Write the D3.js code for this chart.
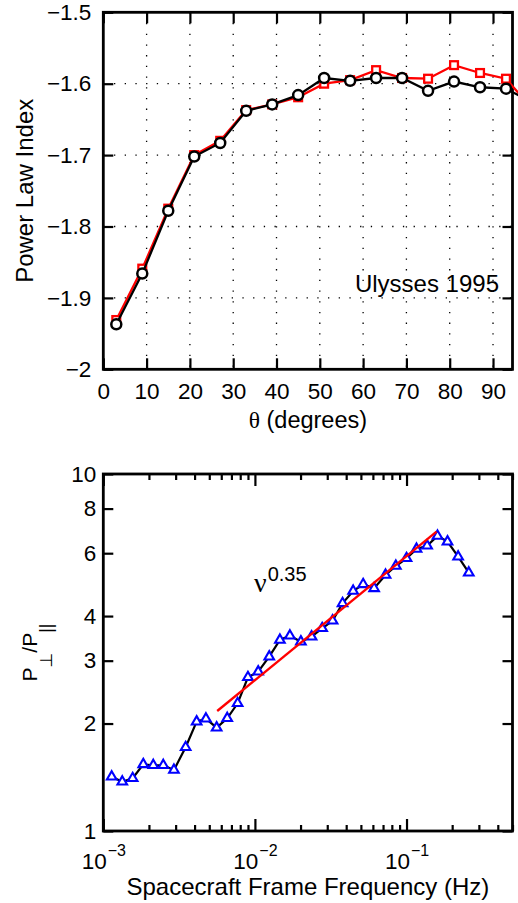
<!DOCTYPE html>
<html>
<head>
<meta charset="utf-8">
<script src="https://cdn.jsdelivr.net/npm/d3@7/dist/d3.min.js"></script>
<style>
  html, body { margin: 0; padding: 0; background: #fff; }
  svg { display: block; font-family: "Liberation Sans", Arial, Helvetica, sans-serif; }
</style>
</head>
<body>
<svg id="chart" width="518" height="903"></svg>
<script>
// ---------- Top panel data ----------
const thetaDeg = [3, 9, 15, 21, 27, 33, 39, 45, 51, 57, 63, 69, 75, 81, 87, 93, 99];
const indexBlack = [-1.937, -1.866, -1.778, -1.702, -1.683, -1.638, -1.629, -1.616, -1.592, -1.596, -1.592, -1.592, -1.610, -1.597, -1.605, -1.607, -1.626];
const indexRed   = [-1.931, -1.859, -1.775, -1.700, -1.680, -1.637, -1.629, -1.619, -1.600, -1.595, -1.581, -1.592, -1.593, -1.574, -1.585, -1.593, -1.635];
const thetaTicks = [0, 10, 20, 30, 40, 50, 60, 70, 80, 90];
const indexTicks = [-2, -1.9, -1.8, -1.7, -1.6, -1.5];
const indexTickLabels = ["\u22122", "\u22121.9", "\u22121.8", "\u22121.7", "\u22121.6", "\u22121.5"];

// ---------- Bottom panel data ----------
const freqHz = [0.001136, 0.001334, 0.001562, 0.001835, 0.002136, 0.002486, 0.002924, 0.003493, 0.004127, 0.004753,
                0.005591, 0.006568, 0.007691, 0.008994, 0.01051, 0.01243, 0.01462, 0.01701, 0.02010, 0.02364,
                0.02778, 0.03253, 0.03785, 0.04446, 0.05175, 0.06114, 0.07272, 0.08502, 0.1000, 0.1164,
                0.1367, 0.1601, 0.1863, 0.2190, 0.2574];
const powerRatio = [1.419, 1.374, 1.405, 1.537, 1.528, 1.528, 1.482, 1.716, 2.024, 2.063,
                    1.947, 2.069, 2.279, 2.695, 2.794, 3.078, 3.428, 3.524, 3.391, 3.502,
                    3.697, 3.882, 4.343, 4.702, 4.909, 4.784, 5.213, 5.525, 5.806, 6.164,
                    6.298, 6.705, 6.464, 5.866, 5.290];
const fitFreq = [0.00564, 0.1577];
const fitRatio = [2.168, 6.893];
const freqMajorTicks = [0.001, 0.01, 0.1];
const freqTickExp = ["\u22123", "\u22122", "\u22121"];
const ratioTicks = [1, 2, 3, 4, 6, 8, 10];
const ratioTickLabels = ["1", "2", "3", "4", "6", "8", "10"];

const svg = d3.select("#chart");
const L = 103.3, R = 512.5;
const TICK_FS = 22.5;

// ================= TOP PANEL =================
const T1 = 12.3, B1 = 369.3;
const x1 = d3.scaleLinear().domain([0, 94.5]).range([L, R]);
const y1 = d3.scaleLinear().domain([-2, -1.5]).range([B1, T1]);

const g1 = svg.append("g");

// dotted grid
g1.append("g").selectAll("line").data(thetaTicks.filter(d => d > 0)).join("line")
  .attr("x1", d => x1(d)).attr("x2", d => x1(d)).attr("y1", T1).attr("y2", B1)
  .attr("stroke", "#000").attr("stroke-width", 1.3).attr("stroke-dasharray", "1.3,9.4");
g1.append("g").selectAll("line").data(indexTicks.filter(d => d > -2 && d < -1.5)).join("line")
  .attr("y1", d => y1(d)).attr("y2", d => y1(d)).attr("x1", L).attr("x2", R)
  .attr("stroke", "#000").attr("stroke-width", 1.3).attr("stroke-dasharray", "1.3,9.4");

function styleAxis(sel, fs) {
  sel.select(".domain").remove();
  sel.selectAll(".tick line").attr("stroke", "#000").attr("stroke-width", 2.2);
  sel.selectAll(".tick text").attr("fill", "#000").attr("font-size", fs)
     .attr("font-family", '"Liberation Sans", Arial, sans-serif');
}

// axes with inward ticks
const ax1b = g1.append("g").attr("transform", `translate(0,${B1})`)
  .call(d3.axisBottom(x1).tickValues(thetaTicks).tickSizeInner(-11).tickSizeOuter(0).tickPadding(14).tickFormat(d3.format("d")));
styleAxis(ax1b, TICK_FS);
const ax1t = g1.append("g").attr("transform", `translate(0,${T1})`)
  .call(d3.axisTop(x1).tickValues(thetaTicks).tickSizeInner(-11).tickSizeOuter(0).tickFormat(""));
styleAxis(ax1t, TICK_FS);
const ax1l = g1.append("g").attr("transform", `translate(${L},0)`)
  .call(d3.axisLeft(y1).tickValues(indexTicks).tickSizeInner(-10).tickSizeOuter(0).tickPadding(12)
    .tickFormat((d, i) => indexTickLabels[i]));
styleAxis(ax1l, TICK_FS);
const ax1r = g1.append("g").attr("transform", `translate(${R},0)`)
  .call(d3.axisRight(y1).tickValues(indexTicks).tickSizeInner(-10).tickSizeOuter(0).tickFormat(""));
styleAxis(ax1r, TICK_FS);

// box
g1.append("rect").attr("x", L).attr("y", T1).attr("width", R - L).attr("height", B1 - T1)
  .attr("fill", "none").attr("stroke", "#000").attr("stroke-width", 2.8);

const line1 = d3.line().x((d, i) => x1(thetaDeg[i])).y(d => y1(d));
// red series
g1.append("path").datum(indexRed).attr("d", line1).attr("fill", "none")
  .attr("stroke", "#ff0000").attr("stroke-width", 2.3);
g1.append("g").selectAll("rect").data(indexRed).join("rect")
  .attr("x", (d, i) => x1(thetaDeg[i]) - 3.9).attr("y", d => y1(d) - 3.9)
  .attr("width", 7.8).attr("height", 7.8)
  .attr("fill", "#fff").attr("stroke", "#ff0000").attr("stroke-width", 2.3);
// black series
g1.append("path").datum(indexBlack).attr("d", line1).attr("fill", "none")
  .attr("stroke", "#000").attr("stroke-width", 2.3);
g1.append("g").selectAll("circle").data(indexBlack).join("circle")
  .attr("cx", (d, i) => x1(thetaDeg[i])).attr("cy", d => y1(d)).attr("r", 5)
  .attr("fill", "#fff").attr("stroke", "#000").attr("stroke-width", 2.5);

g1.append("text").attr("x", 499).attr("y", 292).attr("text-anchor", "end")
  .attr("font-size", 24).text("Ulysses 1995");

// axis labels
const xl1 = g1.append("text").attr("x", (L + R) / 2).attr("y", 428).attr("text-anchor", "middle").attr("font-size", 23.5);
xl1.append("tspan").attr("font-family", '"Liberation Serif", "DejaVu Serif", serif').text("\u03B8");
xl1.append("tspan").text(" (degrees)");
g1.append("text").attr("transform", `translate(33,${(T1 + B1) / 2}) rotate(-90)`)
  .attr("text-anchor", "middle").attr("font-size", 24).text("Power Law Index");

// ================= BOTTOM PANEL =================
const T2 = 474, B2 = 831;
const x2 = d3.scaleLog().domain([0.001, 0.5]).range([L, R]);
const y2 = d3.scaleLog().domain([1, 10]).range([B2, T2]);
const g2 = svg.append("g");

const minorTicks = x2.ticks().filter(t => !freqMajorTicks.some(m => Math.abs(m - t) / m < 1e-6));

// minor x ticks
const ax2bm = g2.append("g").attr("transform", `translate(0,${B2})`)
  .call(d3.axisBottom(x2).tickValues(minorTicks).tickSizeInner(-6).tickSizeOuter(0).tickFormat(""));
styleAxis(ax2bm, TICK_FS);
const ax2tm = g2.append("g").attr("transform", `translate(0,${T2})`)
  .call(d3.axisTop(x2).tickValues(minorTicks).tickSizeInner(-6).tickSizeOuter(0).tickFormat(""));
styleAxis(ax2tm, TICK_FS);
// major x ticks
const ax2b = g2.append("g").attr("transform", `translate(0,${B2})`)
  .call(d3.axisBottom(x2).tickValues(freqMajorTicks).tickSizeInner(-12).tickSizeOuter(0).tickPadding(22).tickFormat(""));
styleAxis(ax2b, TICK_FS);
ax2b.selectAll(".tick text").each(function (d, i) {
  const t = d3.select(this);
  t.text(null);
  t.append("tspan").text("10");
  t.append("tspan").attr("font-size", 16).attr("dx", 1).attr("dy", "-0.78em").text(freqTickExp[i]);
});
const ax2t = g2.append("g").attr("transform", `translate(0,${T2})`)
  .call(d3.axisTop(x2).tickValues(freqMajorTicks).tickSizeInner(-12).tickSizeOuter(0).tickFormat(""));
styleAxis(ax2t, TICK_FS);
const ax2l = g2.append("g").attr("transform", `translate(${L},0)`)
  .call(d3.axisLeft(y2).tickValues(ratioTicks).tickSizeInner(-10).tickSizeOuter(0).tickPadding(7)
    .tickFormat((d, i) => ratioTickLabels[i]));
styleAxis(ax2l, TICK_FS);
const ax2r = g2.append("g").attr("transform", `translate(${R},0)`)
  .call(d3.axisRight(y2).tickValues(ratioTicks).tickSizeInner(-10).tickSizeOuter(0).tickFormat(""));
styleAxis(ax2r, TICK_FS);

g2.append("rect").attr("x", L).attr("y", T2).attr("width", R - L).attr("height", B2 - T2)
  .attr("fill", "none").attr("stroke", "#000").attr("stroke-width", 2.8);

const line2 = d3.line().x((d, i) => x2(freqHz[i])).y(d => y2(d));
g2.append("path").datum(powerRatio).attr("d", line2).attr("fill", "none")
  .attr("stroke", "#000").attr("stroke-width", 2.2);
const tri = d3.symbol().type(d3.symbolTriangle).size(40);
g2.append("g").selectAll("path").data(powerRatio).join("path")
  .attr("transform", (d, i) => `translate(${x2(freqHz[i])},${y2(d)})`)
  .attr("d", tri).attr("fill", "#fff").attr("stroke", "#0000ff").attr("stroke-width", 2.1);

const fitLine = d3.line().x((d, i) => x2(fitFreq[i])).y(d => y2(d));
g2.append("path").datum(fitRatio).attr("d", fitLine).attr("fill", "none")
  .attr("stroke", "#ff0000").attr("stroke-width", 2.4);

const nu = g2.append("text").attr("x", 254).attr("y", 592);
nu.append("tspan").attr("font-size", 28).attr("font-family", '"Liberation Serif", "DejaVu Serif", serif').text("\u03BD");
nu.append("tspan").attr("font-size", 20).attr("dx", 1).attr("dy", -11).text("0.35");

g2.append("text").attr("x", (L + R) / 2).attr("y", 895).attr("text-anchor", "middle")
  .attr("font-size", 24).text("Spacecraft Frame Frequency (Hz)");

const yl2 = g2.append("text").attr("transform", `translate(37,${(T2 + B2) / 2}) rotate(-90)`)
  .attr("text-anchor", "middle").attr("font-size", 21);
yl2.append("tspan").text("P");
yl2.append("tspan").attr("font-size", 17).attr("dy", 15).attr("font-family", '"DejaVu Sans", sans-serif').text("\u22A5");
yl2.append("tspan").attr("dy", -15).text("/P");
yl2.append("tspan").attr("font-size", 18).attr("dy", 15).text("||");
</script>
</body>
</html>
